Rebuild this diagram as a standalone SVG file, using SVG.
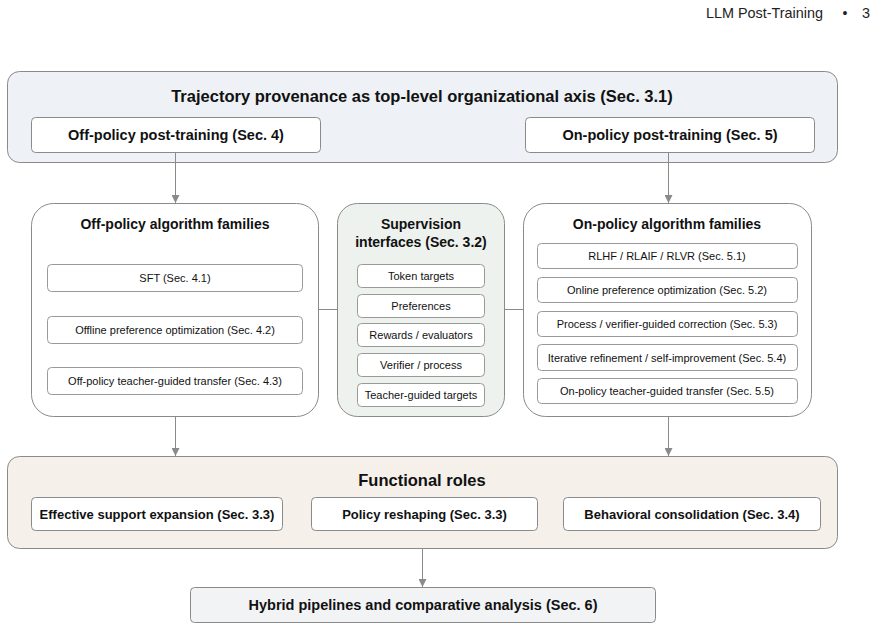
<svg xmlns="http://www.w3.org/2000/svg" width="878" height="629" viewBox="0 0 878 629">
<defs>
<marker id="ah" viewBox="0 0 10 10" refX="10" refY="5" markerWidth="8" markerHeight="8" markerUnits="userSpaceOnUse" orient="auto">
<path d="M0,0 L10,5 L0,10 z" fill="#8a8a8a"/>
</marker>
<style>
text{font-family:"Liberation Sans",Arial,sans-serif;fill:#111;text-anchor:middle}
.outer{stroke:#8a8a8a;stroke-width:1}
.sub{fill:#fff;stroke:#999;stroke-width:1}
.h1{font-size:16.5px;font-weight:bold}
.h2{font-size:14.5px;font-weight:bold}
.h3{font-size:14px;font-weight:bold}
.b13{font-size:13px;font-weight:bold}
.it{font-size:11px}
.conn{stroke:#8a8a8a;stroke-width:1;fill:none}
</style>
</defs>
<text x="823" y="18" style="font-size:14.4px;text-anchor:end;fill:#222">LLM Post-Training</text>
<text x="845" y="18" style="font-size:14px;fill:#222">•</text>
<text x="866" y="18" style="font-size:14.4px;fill:#222">3</text>

<g id="provenance">
<rect class="outer" x="7.5" y="71.5" width="830" height="91" rx="12" fill="#eef2f6"/>
<text class="h1" x="422" y="102">Trajectory provenance as top-level organizational axis (Sec. 3.1)</text>
</g>
<g id="offpolicy">
<rect class="sub" x="31.5" y="117.5" width="289" height="35" rx="4" style="stroke:#8a8a8a"/>
<text class="h2" x="176" y="135" dominant-baseline="central">Off-policy post-training (Sec. 4)</text>
</g>
<g id="onpolicy">
<rect class="sub" x="525.5" y="117.5" width="289" height="35" rx="4" style="stroke:#8a8a8a"/>
<text class="h2" x="670" y="135" dominant-baseline="central">On-policy post-training (Sec. 5)</text>
</g>

<g id="offfam">
<rect class="outer" x="31.5" y="203.5" width="287" height="213" rx="22" fill="#fff"/>
<text class="h3" x="175" y="229">Off-policy algorithm families</text>
<rect class="sub" x="47.5" y="264.5" width="255" height="27" rx="4"/>
<text class="it" x="175" y="278" dominant-baseline="central">SFT (Sec. 4.1)</text>
<rect class="sub" x="47.5" y="316.5" width="255" height="27" rx="4"/>
<text class="it" x="175" y="330" dominant-baseline="central">Offline preference optimization (Sec. 4.2)</text>
<rect class="sub" x="47.5" y="367.5" width="255" height="27" rx="4"/>
<text class="it" x="175" y="381" dominant-baseline="central">Off-policy teacher-guided transfer (Sec. 4.3)</text>
</g>

<g id="supervision">
<rect class="outer" x="337.5" y="203.5" width="167" height="213" rx="20" fill="#eef2ee"/>
<text class="h3" x="421" y="229">Supervision</text>
<text class="h3" x="421" y="247">interfaces (Sec. 3.2)</text>
<rect class="sub" x="357.5" y="264.5" width="127" height="23" rx="4"/>
<text class="it" x="421" y="276" dominant-baseline="central">Token targets</text>
<rect class="sub" x="357.5" y="294.5" width="127" height="23" rx="4"/>
<text class="it" x="421" y="306" dominant-baseline="central">Preferences</text>
<rect class="sub" x="357.5" y="323.5" width="127" height="23" rx="4"/>
<text class="it" x="421" y="335" dominant-baseline="central">Rewards / evaluators</text>
<rect class="sub" x="357.5" y="353.5" width="127" height="23" rx="4"/>
<text class="it" x="421" y="365" dominant-baseline="central">Verifier / process</text>
<rect class="sub" x="357.5" y="383.5" width="127" height="23" rx="4"/>
<text class="it" x="421" y="395" dominant-baseline="central">Teacher-guided targets</text>
</g>

<g id="onfam">
<rect class="outer" x="523.5" y="203.5" width="288" height="213" rx="22" fill="#fff"/>
<text class="h3" x="667" y="229">On-policy algorithm families</text>
<rect class="sub" x="537.5" y="243.5" width="260" height="25" rx="4"/>
<text class="it" x="667" y="256" dominant-baseline="central">RLHF / RLAIF / RLVR (Sec. 5.1)</text>
<rect class="sub" x="537.5" y="277.5" width="260" height="25" rx="4"/>
<text class="it" x="667" y="290" dominant-baseline="central">Online preference optimization (Sec. 5.2)</text>
<rect class="sub" x="537.5" y="311.5" width="260" height="25" rx="4"/>
<text class="it" x="667" y="324" dominant-baseline="central">Process / verifier-guided correction (Sec. 5.3)</text>
<rect class="sub" x="537.5" y="344.5" width="260" height="26" rx="4"/>
<text class="it" x="667" y="357.5" dominant-baseline="central">Iterative refinement / self-improvement (Sec. 5.4)</text>
<rect class="sub" x="537.5" y="378.5" width="260" height="25" rx="4"/>
<text class="it" x="667" y="391" dominant-baseline="central">On-policy teacher-guided transfer (Sec. 5.5)</text>
</g>

<g id="roles">
<rect class="outer" x="7.5" y="456.5" width="830" height="92" rx="12" fill="#f5f0ea"/>
<text class="h1" x="422" y="486">Functional roles</text>
<rect class="sub" x="31.5" y="497.5" width="251" height="33" rx="4" style="stroke:#8a8a8a"/>
<text class="b13" x="157" y="514" dominant-baseline="central">Effective support expansion (Sec. 3.3)</text>
<rect class="sub" x="311.5" y="497.5" width="226" height="33" rx="4" style="stroke:#8a8a8a"/>
<text class="b13" x="424.5" y="514" dominant-baseline="central">Policy reshaping (Sec. 3.3)</text>
<rect class="sub" x="563.5" y="497.5" width="257" height="33" rx="4" style="stroke:#8a8a8a"/>
<text class="b13" x="692" y="514" dominant-baseline="central">Behavioral consolidation (Sec. 3.4)</text>
</g>

<g id="hybrid">
<rect class="outer" x="190.5" y="587.5" width="465" height="35" rx="4" fill="#f2f3f5"/>
<text class="h2" x="423" y="605" dominant-baseline="central">Hybrid pipelines and comparative analysis (Sec. 6)</text>
</g>

<g id="connectors">
<line class="conn" x1="175.5" y1="153" x2="175.5" y2="203" marker-end="url(#ah)"/>
<line class="conn" x1="668.5" y1="153" x2="668.5" y2="203" marker-end="url(#ah)"/>
<line class="conn" x1="318" y1="309.5" x2="337" y2="309.5"/>
<line class="conn" x1="505" y1="309.5" x2="523" y2="309.5"/>
<line class="conn" x1="175.5" y1="417" x2="175.5" y2="456" marker-end="url(#ah)"/>
<line class="conn" x1="668.5" y1="417" x2="668.5" y2="456" marker-end="url(#ah)"/>
<line class="conn" x1="422.5" y1="549" x2="422.5" y2="587" marker-end="url(#ah)"/>
</g>
</svg>
